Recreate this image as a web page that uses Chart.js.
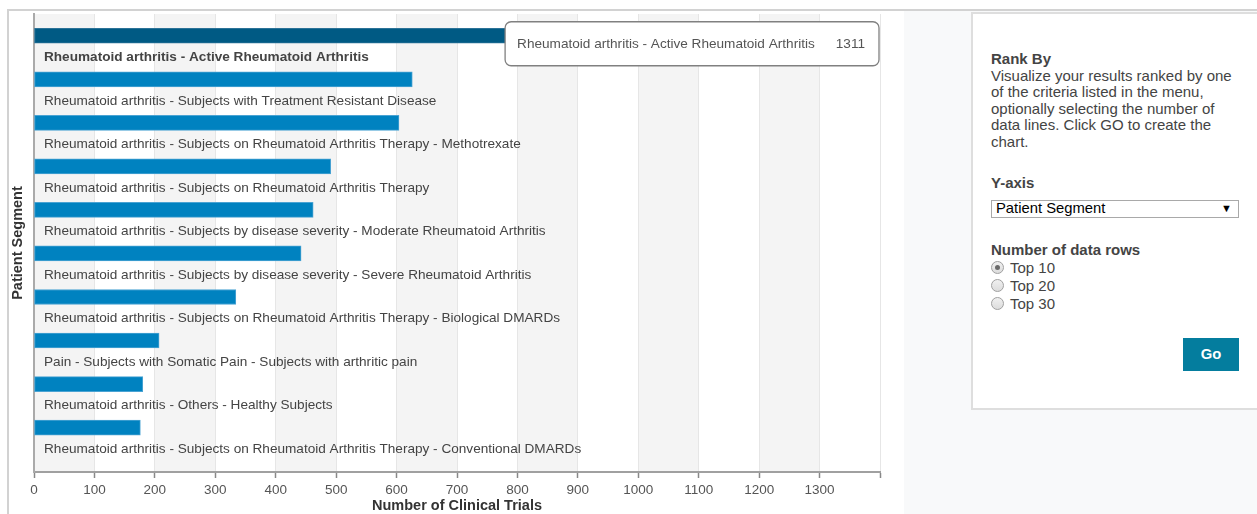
<!DOCTYPE html>
<html>
<head>
<meta charset="utf-8">
<script src="https://cdn.jsdelivr.net/npm/chart.js@4"></script>
<style>
  html, body { margin: 0; padding: 0; background: #ffffff; width: 1257px; height: 514px; overflow: hidden; font-family: "Liberation Sans", Arial, sans-serif; }
  #topline { position: absolute; left: 7px; top: 9px; width: 1250px; height: 2px; background: #d2d2d2; }
  #leftline { position: absolute; left: 7px; top: 9px; width: 2px; height: 505px; background: #d2d2d2; }
  #grayarea { position: absolute; left: 904px; top: 11px; width: 353px; height: 503px; background: #f8f9fa; }
  #panel { position: absolute; left: 971px; top: 12px; width: 300px; height: 394px; background: #fff; border: 2px solid #dedede; }
  #chartwrap { position: absolute; left: 0; top: 0; width: 905px; height: 514px; }
  .ptxt { position: absolute; left: 991px; color: #444; font-size: 15px; line-height: 16.5px; white-space: nowrap; }
  .b { font-weight: bold; }
  #select { position: absolute; left: 991px; top: 200px; width: 246px; height: 16px; border: 1px solid #a9a9a9; background: #fff; font-size: 14.8px; line-height: 15px; color: #000; }
  #select span.t { position: absolute; left: 4px; top: 0; }
  #select span.a { position: absolute; right: 6px; top: 0; font-size: 11px; }
  .radio { position: absolute; left: 991px; width: 11px; height: 11px; border-radius: 50%; border: 1px solid #a0a0a0; background: linear-gradient(#f0f0f0, #dcdcdc); }
  .radio.on::after { content: ""; position: absolute; left: 3px; top: 3px; width: 5px; height: 5px; border-radius: 50%; background: #6a6a6a; }
  #go { position: absolute; left: 1183px; top: 338px; width: 56px; height: 33px; background: #047d9e; color: #fff; font-weight: bold; font-size: 14.8px; line-height: 33px; text-align: center; }
</style>
</head>
<body>
<div id="topline"></div>
<div id="leftline"></div>
<div id="grayarea"></div>
<div id="panel"></div>
<div class="ptxt b" style="top:51px;">Rank By</div>
<div class="ptxt" style="top:67.5px;">Visualize your results ranked by one<br>of the criteria listed in the menu,<br>optionally selecting the number of<br>data lines. Click GO to create the<br>chart.</div>
<div class="ptxt b" style="top:175px;">Y-axis</div>
<div id="select"><span class="t">Patient Segment</span><span class="a">&#9660;</span></div>
<div class="ptxt b" style="top:242px;">Number of data rows</div>
<div class="radio on" style="top:261px;"></div>
<div class="ptxt" style="top:260px; left:1010px;">Top 10</div>
<div class="radio" style="top:279px;"></div>
<div class="ptxt" style="top:278px; left:1010px;">Top 20</div>
<div class="radio" style="top:297px;"></div>
<div class="ptxt" style="top:296px; left:1010px;">Top 30</div>
<div id="go">Go</div>
<div id="chartwrap"><canvas id="c" width="905" height="514"></canvas></div>
<script>
const categories = [
  "Rheumatoid arthritis - Active Rheumatoid Arthritis",
  "Rheumatoid arthritis - Subjects with Treatment Resistant Disease",
  "Rheumatoid arthritis - Subjects on Rheumatoid Arthritis Therapy - Methotrexate",
  "Rheumatoid arthritis - Subjects on Rheumatoid Arthritis Therapy",
  "Rheumatoid arthritis - Subjects by disease severity - Moderate Rheumatoid Arthritis",
  "Rheumatoid arthritis - Subjects by disease severity - Severe Rheumatoid Arthritis",
  "Rheumatoid arthritis - Subjects on Rheumatoid Arthritis Therapy - Biological DMARDs",
  "Pain - Subjects with Somatic Pain - Subjects with arthritic pain",
  "Rheumatoid arthritis - Others - Healthy Subjects",
  "Rheumatoid arthritis - Subjects on Rheumatoid Arthritis Therapy - Conventional DMARDs"
];
const trialCounts = [1311, 626, 604, 491, 462, 442, 334, 207, 180, 176];
const xMin = 0;
const xMax = 1400;
const xStep = 100;
const xTitle = "Number of Clinical Trials";
const yTitle = "Patient Segment";
const highlightIndex = 0;

const FONT = "'Liberation Sans', Arial, sans-serif";

const bandsPlugin = {
  id: 'bands',
  beforeDraw(chart) {
    const {ctx, chartArea} = chart;
    const xs = chart.scales.x;
    ctx.save();
    ctx.fillStyle = '#f4f4f4';
    for (let v = xMin; v < xMax; v += 2 * xStep) {
      const a = xs.getPixelForValue(v);
      const b = xs.getPixelForValue(Math.min(v + xStep, xMax));
      ctx.fillRect(a, chartArea.top, b - a, chartArea.bottom - chartArea.top);
    }
    ctx.restore();
  }
};

const tipPlugin = {
  id: 'fixedTip',
  afterDraw(chart) {
    const {ctx, chartArea} = chart;
    const ys = chart.scales.y;
    const name = categories[highlightIndex];
    const val = String(trialCounts[highlightIndex]);
    ctx.save();
    ctx.font = "13.6px " + FONT;
    const w1 = ctx.measureText(name).width;
    const w2 = ctx.measureText(val).width;
    const padL = 12, padR = 14, gap = 21, h = 44;
    const boxW = padL + w1 + gap + w2 + padR;
    const right = chartArea.right - 1;
    const left = right - boxW;
    const cy = ys.getPixelForValue(highlightIndex) + 8;
    const top = cy - h / 2;
    const r = 6;
    ctx.beginPath();
    ctx.moveTo(left + r, top);
    ctx.lineTo(right - r, top);
    ctx.arcTo(right, top, right, top + r, r);
    ctx.lineTo(right, top + h - r);
    ctx.arcTo(right, top + h, right - r, top + h, r);
    ctx.lineTo(left + r, top + h);
    ctx.arcTo(left, top + h, left, top + h - r, r);
    ctx.lineTo(left, top + r);
    ctx.arcTo(left, top, left + r, top, r);
    ctx.closePath();
    ctx.fillStyle = '#ffffff';
    ctx.fill();
    ctx.lineWidth = 1.3;
    ctx.strokeStyle = '#808080';
    ctx.stroke();
    ctx.fillStyle = '#555555';
    ctx.textBaseline = 'middle';
    ctx.textAlign = 'left';
    ctx.fillText(name, left + padL, cy);
    ctx.fillText(val, left + padL + w1 + gap, cy);
    ctx.restore();
  }
};

new Chart(document.getElementById('c'), {
  type: 'bar',
  data: {
    datasets: [{
      data: trialCounts.map((v, i) => ({x: v, y: i})),
      backgroundColor: trialCounts.map((v, i) => i === highlightIndex ? '#005a84' : '#0082c0'),
      borderColor: trialCounts.map((v, i) => i === highlightIndex ? '#2c7398' : '#4aa3d3'),
      borderWidth: 1,
      borderSkipped: false,
      barThickness: 15
    }]
  },
  options: {
    indexAxis: 'y',
    responsive: false,
    animation: false,
    events: [],
    layout: { padding: { top: 14, right: 25, left: 0, bottom: 0 } },
    plugins: { legend: { display: false }, tooltip: { enabled: false } },
    scales: {
      x: {
        type: 'linear',
        position: 'bottom',
        min: xMin,
        max: xMax,
        afterFit(s) { s.height = 42; s.paddingLeft = 0; s.paddingRight = 0; },
        ticks: {
          stepSize: xStep,
          padding: 4,
          color: '#555',
          font: { family: FONT, size: 13.5 },
          callback: (v) => (v >= xMax ? '' : String(v))
        },
        grid: { color: '#e6e6e6', lineWidth: 1, tickColor: '#888', tickLength: 6, tickWidth: 1.5 },
        border: { display: true, color: '#a0a0a0', width: 2 },
        title: { display: true, text: xTitle, color: '#333', font: { family: FONT, size: 14.5, weight: 'bold', lineHeight: 1.05 }, padding: { top: 0, bottom: 0 } }
      },
      y: {
        type: 'linear',
        position: 'left',
        reverse: true,
        offset: false,
        min: -0.5,
        max: 10.02,
        afterFit(s) { s.width = 34; s.paddingTop = 0; s.paddingBottom = 0; },
        afterBuildTicks(s) { s.ticks = categories.map((c, i) => ({ value: i })); },
        grid: { display: false, offset: false },
        border: { display: true, color: '#aaaaaa', width: 2 },
        ticks: {
          mirror: true,
          padding: 10,
          labelOffset: 21.5,
          color: '#444',
          font: (ctx) => ({ family: FONT, size: 13.6, weight: ctx.index === highlightIndex ? 'bold' : 'normal' }),
          callback: (v) => categories[v]
        },
        title: { display: true, text: yTitle, color: '#333', font: { family: FONT, size: 14.5, weight: 'bold' }, padding: { top: 9, bottom: 0 } }
      }
    }
  },
  plugins: [bandsPlugin, tipPlugin]
});
</script>
</body>
</html>
